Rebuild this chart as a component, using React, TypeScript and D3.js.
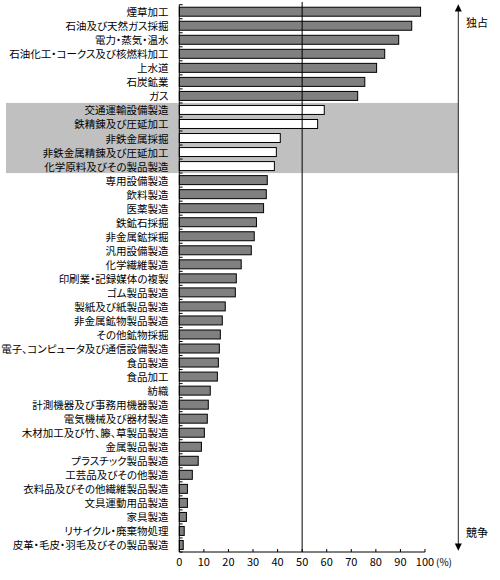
import React from "react";
import * as d3 from "d3";

const categories: string[] = [
  "煙草加工",
  "石油及び天然ガス採掘",
  "電力・蒸気・温水",
  "石油化工・コークス及び核燃料加工",
  "上水道",
  "石炭鉱業",
  "ガス",
  "交通運輸設備製造",
  "鉄精錬及び圧延加工",
  "非鉄金属採掘",
  "非鉄金属精錬及び圧延加工",
  "化学原料及びその製品製造",
  "専用設備製造",
  "飲料製造",
  "医薬製造",
  "鉄鉱石採掘",
  "非金属鉱採掘",
  "汎用設備製造",
  "化学繊維製造",
  "印刷業・記録媒体の複製",
  "ゴム製品製造",
  "製紙及び紙製品製造",
  "非金属鉱物製品製造",
  "その他鉱物採掘",
  "電子、コンピュータ及び通信設備製造",
  "食品製造",
  "食品加工",
  "紡織",
  "計測機器及び事務用機器製造",
  "電気機械及び器材製造",
  "木材加工及び竹、籐、草製品製造",
  "金属製品製造",
  "プラスチック製品製造",
  "工芸品及びその他製造",
  "衣料品及びその他繊維製品製造",
  "文具運動用品製造",
  "家具製造",
  "リサイクル・廃棄物処理",
  "皮革・毛皮・羽毛及びその製品製造",
];

const values: number[] = [
  98.2, 94.6, 89.3, 83.6, 80.3, 75.5, 72.6, 59.0, 56.3, 41.1, 39.5, 38.7,
  35.8, 35.4, 34.3, 31.4, 30.5, 29.3, 25.2, 23.2, 22.8, 18.7, 17.5, 16.7,
  16.3, 15.9, 15.5, 12.6, 11.8, 11.4, 10.2, 9.0, 7.7, 5.3, 3.3, 3.3, 2.9,
  2.0, 1.6,
];

const highlighted: string[] = [
  "交通運輸設備製造",
  "鉄精錬及び圧延加工",
  "非鉄金属採掘",
  "非鉄金属精錬及び圧延加工",
  "化学原料及びその製品製造",
];

const xTicks: number[] = [0, 10, 20, 30, 40, 50, 60, 70, 80, 90, 100];
const unitLabel = "(%)";
const topLabel = "独占";
const bottomLabel = "競争";
const threshold = 50;

const W = 500;
const H = 580;
const FONT = "'Noto Sans CJK JP', 'MS Gothic', sans-serif";

export default function App() {
  const x = d3.scaleLinear().domain([0, 100]).range([179.3, 425]);
  const y = d3
    .scaleBand<string>()
    .domain(categories)
    .range([4.7, 552])
    .paddingInner(0.36)
    .paddingOuter(0.18);
  const step = y.step();
  const bandStart = (c: string) => (y(c) as number) - y.paddingInner() * step / 2;

  const hiTop = bandStart(highlighted[0]);
  const hiBottom = bandStart(highlighted[highlighted.length - 1]) + step;

  const axisX = x(0);
  const baseY = 552;
  const arrowX = 458.3;

  return (
    <div style={{ position: "absolute", left: 0, top: 0 }}>
      <svg width={W} height={H} style={{ display: "block", background: "#fff" }}>
        {/* highlight band */}
        <rect x={6} y={hiTop} width={arrowX - 6} height={hiBottom - hiTop} fill="#c0c0c0" />

        {/* bars */}
        {categories.map((c, i) => (
          <rect
            key={c}
            x={x(0)}
            y={y(c)}
            width={x(values[i]) - x(0)}
            height={y.bandwidth()}
            fill={highlighted.includes(c) ? "#ffffff" : "#808080"}
            stroke="#000"
            strokeWidth={1}
          />
        ))}

        {/* category labels */}
        {categories.map((c) => (
          <text
            key={"l" + c}
            x={168.5}
            y={(y(c) as number) + y.bandwidth() / 2}
            textAnchor="end"
            dominantBaseline="central"
            fontFamily={FONT}
            fontSize={10.5}
            fill="#000"
            style={{ fontFeatureSettings: '"palt"' }}
          >
            {c}
          </text>
        ))}

        {/* y axis */}
        <line x1={axisX} x2={axisX} y1={4.7} y2={baseY} stroke="#000" strokeWidth={1} />
        {d3.range(categories.length + 1).map((k) => {
          const yy = 4.7 + k * step;
          return (
            <line key={"yt" + k} x1={axisX} x2={axisX + 3.3} y1={yy} y2={yy} stroke="#000" strokeWidth={1} />
          );
        })}

        {/* x axis */}
        <line x1={axisX} x2={x(100)} y1={baseY} y2={baseY} stroke="#000" strokeWidth={1} />
        {xTicks.map((t) => (
          <g key={"xt" + t}>
            <line x1={x(t)} x2={x(t)} y1={baseY} y2={baseY - 3} stroke="#000" strokeWidth={1} />
            <text
              x={x(t)}
              y={561}
              textAnchor="middle"
              dominantBaseline="central"
              fontFamily={FONT}
              fontSize={11}
              fill="#000"
            >
              {t}
            </text>
          </g>
        ))}
        <text x={436} y={561} dominantBaseline="central" fontFamily={FONT} fontSize={10} fill="#000">
          {unitLabel}
        </text>

        {/* threshold line */}
        <line x1={x(threshold)} x2={x(threshold)} y1={2} y2={baseY} stroke="#000" strokeWidth={1} />

        {/* double arrow */}
        <line x1={arrowX} x2={arrowX} y1={10} y2={545} stroke="#222" strokeWidth={1} />
        <path d={`M${arrowX},4.3 L${arrowX - 3.5},11.5 L${arrowX + 3.5},11.5 Z`} fill="#000" />
        <path d={`M${arrowX},550.7 L${arrowX - 3.5},543.5 L${arrowX + 3.5},543.5 Z`} fill="#000" />
        <text x={466} y={22} dominantBaseline="central" fontFamily={FONT} fontSize={11} fill="#000">
          {topLabel}
        </text>
        <text x={466} y={532} dominantBaseline="central" fontFamily={FONT} fontSize={11} fill="#000">
          {bottomLabel}
        </text>
      </svg>
    </div>
  );
}
